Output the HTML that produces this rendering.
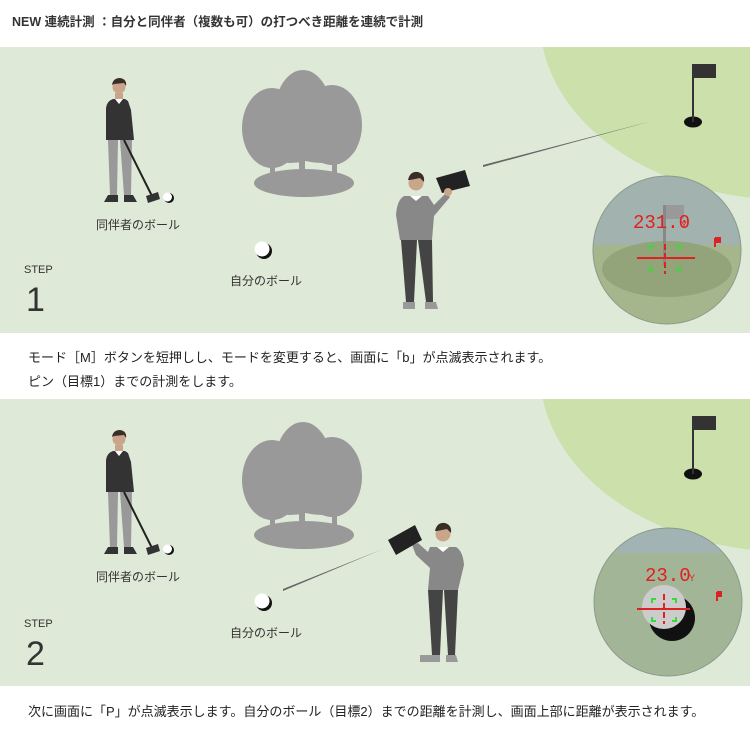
<!DOCTYPE html>
<html><head><meta charset="utf-8"><style>
body{margin:0;background:#fff;}
svg{display:block;font-family:"Liberation Sans","Noto Sans CJK JP",sans-serif;}
</style></head><body>
<svg width="750" height="750" viewBox="0 0 750 750" xmlns="http://www.w3.org/2000/svg">
<defs>
<clipPath id="p1"><rect x="0" y="47" width="750" height="286"/></clipPath>
<clipPath id="p2"><rect x="0" y="399" width="750" height="287"/></clipPath>
<g id="golfer">
 <circle cx="119" cy="87" r="6.5" fill="#c9a58a"/>
 <path d="M112 85 Q113 78 120 78 Q127 79 126 86 L124 83 L114 84Z" fill="#3a2e28"/>
 <rect x="115" y="93" width="8" height="6" fill="#c9a58a"/>
 <path d="M113 99 L125 99 L128 101 L131 110 L134 140 L106 140 L106 108 Q107 101 113 99Z" fill="#333"/>
 <path d="M115 99 L119 104 L123 99Z" fill="#fff"/>
 <path d="M108 140 L118 140 L117 195 L110 195Z M120 140 L132 140 L131 195 L124 195Z" fill="#999"/>
 <path d="M108 195 L118 195 L118 202 L104 202 Z M124 195 L133 195 L137 202 L124 202Z" fill="#333"/>
 <path d="M124 140 L153 198" stroke="#222" stroke-width="2"/>
 <path d="M146 196 L158 192 L160 199 L148 203Z" fill="#333"/>
 <circle cx="169" cy="198" r="5" fill="#111"/><circle cx="167.5" cy="197" r="4.5" fill="#fff"/>
</g>
<g id="trees" fill="#999">
 <ellipse cx="304" cy="183" rx="50" ry="14"/>
 <rect x="270" y="140" width="5" height="40"/><rect x="299" y="140" width="6" height="40"/><rect x="332" y="140" width="5" height="40"/>
 <ellipse cx="272" cy="128" rx="30" ry="40"/>
 <ellipse cx="303" cy="112" rx="28" ry="42"/>
 <ellipse cx="332" cy="125" rx="30" ry="40"/>
 <ellipse cx="290" cy="145" rx="35" ry="18"/><ellipse cx="322" cy="145" rx="35" ry="18"/>
</g>
<g id="ball"><circle cx="264" cy="251" r="8" fill="#111"/><circle cx="262" cy="249" r="7.5" fill="#fff"/></g>
<g id="flag">
 <ellipse cx="693" cy="122" rx="9" ry="5.5" fill="#111"/>
 <rect x="692" y="64" width="2" height="58" fill="#333"/>
 <rect x="694" y="64" width="22" height="14" fill="#333"/>
</g>
</defs>

<text x="12" y="26" font-size="12.5" font-weight="bold" fill="#333">NEW 連続計測 ：自分と同伴者（複数も可）の打つべき距離を連続で計測</text>

<!-- PANEL 1 -->
<rect x="0" y="47" width="750" height="286" fill="#dfe9d7"/>
<g clip-path="url(#p1)"><ellipse cx="790" cy="20" rx="250" ry="180" fill="#cbe0ab"/></g>
<use href="#flag"/>
<use href="#golfer"/>
<use href="#trees"/>
<use href="#ball"/>
<path d="M483 167 L652 121 L483 165Z" fill="#666"/>
<!-- person 1 -->
<g>
 <circle cx="416" cy="183" r="7.5" fill="#c9a58a"/>
 <path d="M408 180 Q410 171 418 172 Q425 174 424 182 L420 178 L410 180Z" fill="#3a2e28"/>
 <path d="M404 196 L428 196 L434 205 L446 193 L450 197 L434 216 L432 240 L400 240 L396 215 Q397 200 404 196Z" fill="#888"/>
 <path d="M410 196 L416 201 L422 196Z" fill="#fff"/>
 <path d="M401 240 L417 240 L414 302 L406 302Z M418 240 L432 240 L433 302 L426 302Z" fill="#444"/>
 <path d="M403 302 L415 302 L415 309 L403 309Z M425 302 L436 302 L438 309 L425 309Z" fill="#999"/>
 <path d="M436 178 L465 170 L470 186 L442 193Z" fill="#222"/>
 <circle cx="448" cy="192" r="4" fill="#c9a58a"/>
</g>
<!-- scope 1 -->
<defs><clipPath id="s1"><circle cx="667" cy="250" r="74"/></clipPath></defs>
<g clip-path="url(#s1)">
 <rect x="590" y="170" width="160" height="160" fill="#a2b3af"/>
 <rect x="590" y="245" width="160" height="90" fill="#a6b68c"/>
 <ellipse cx="667" cy="269" rx="65" ry="28" fill="#93a47b"/>
 <rect x="663" y="205" width="3" height="60" fill="#888"/>
 <rect x="666" y="205" width="18" height="14" fill="#999"/>
</g>
<circle cx="667" cy="250" r="74" fill="none" stroke="#8a9a8a" stroke-width="1"/>
<text x="633" y="228" font-size="19" fill="#e02020" font-family="Liberation Mono,monospace">231.0</text>
<text x="681" y="228" font-size="9" fill="#e02020">Y</text>
<path d="M637 258 L695 258" stroke="#d22" stroke-width="2"/>
<path d="M665 244 L665 274" stroke="#d22" stroke-width="2" stroke-dasharray="6,3"/>
<path d="M650 250 v-4 h4 M680 250 v-4 h-4 M650 266 v4 h4 M680 266 v4 h-4" stroke="#3d3" stroke-width="2" fill="none"/>
<path d="M715 238 v9 M715 238 h5 v4 h-5" stroke="#d22" stroke-width="2" fill="#d22"/>
<text x="24" y="273" font-size="11" fill="#333">STEP</text>
<text x="26" y="311" font-size="34" fill="#333">1</text>
<text x="96" y="229" font-size="12" fill="#333">同伴者のボール</text>
<text x="230" y="285" font-size="12" fill="#333">自分のボール</text>

<text x="28" y="362" font-size="13" fill="#222">モード［M］ボタンを短押しし、モードを変更すると、画面に「b」が点滅表示されます。</text>
<text x="28" y="386" font-size="13" fill="#222">ピン（目標1）までの計測をします。</text>

<!-- PANEL 2 -->
<rect x="0" y="399" width="750" height="287" fill="#dfe9d7"/>
<g clip-path="url(#p2)"><ellipse cx="790" cy="372" rx="250" ry="180" fill="#cbe0ab"/></g>
<g transform="translate(0,352)"><use href="#flag"/><use href="#golfer"/><use href="#trees"/></g>
<g transform="translate(0,352)"><use href="#ball"/></g>
<path d="M283 591 L383 549 L283 589Z" fill="#666"/>
<!-- person 2 -->
<g>
 <circle cx="443" cy="534" r="7.5" fill="#c9a58a"/>
 <path d="M435 531 Q437 522 445 523 Q452 525 451 533 L447 529 L437 531Z" fill="#3a2e28"/>
 <path d="M430 547 L456 547 Q463 551 464 565 L458 590 L428 590 L430 568 L416 555 L412 545 L418 543 L428 552Z" fill="#888"/>
 <path d="M437 547 L443 552 L449 547Z" fill="#fff"/>
 <path d="M428 590 L443 590 L440 655 L432 655Z M444 590 L458 590 L455 655 L448 655Z" fill="#444"/>
 <path d="M420 655 L440 655 L440 662 L420 662Z M446 655 L456 655 L458 662 L446 662Z" fill="#999"/>
 <path d="M388 540 L415 525 L422 540 L396 555Z" fill="#222"/>
</g>
<!-- scope 2 -->
<defs><clipPath id="s2"><circle cx="668" cy="602" r="74"/></clipPath></defs>
<g clip-path="url(#s2)">
 <rect x="590" y="520" width="160" height="170" fill="#a3b597"/>
 <rect x="590" y="520" width="160" height="33" fill="#a1b3b3"/>
 <circle cx="672" cy="618" r="23" fill="#111"/>
 <circle cx="664" cy="607" r="22" fill="#ccc"/>
</g>
<circle cx="668" cy="602" r="74" fill="none" stroke="#8a9a8a" stroke-width="1"/>
<text x="645" y="581" font-size="19" fill="#e02020" font-family="Liberation Mono,monospace">23.0</text>
<text x="689" y="581" font-size="9" fill="#e02020">Y</text>
<path d="M637 609 L690 609" stroke="#d22" stroke-width="2"/>
<path d="M664 594 L664 624" stroke="#d22" stroke-width="2" stroke-dasharray="6,3"/>
<path d="M652 603 v-4 h4 M676 603 v-4 h-4 M652 617 v4 h4 M676 617 v4 h-4" stroke="#3d3" stroke-width="2" fill="none"/>
<path d="M717 592 v9 M717 592 h4 v4 h-4" stroke="#d22" stroke-width="2" fill="#d22"/>
<text x="24" y="627" font-size="11" fill="#333">STEP</text>
<text x="26" y="665" font-size="34" fill="#333">2</text>
<text x="96" y="581" font-size="12" fill="#333">同伴者のボール</text>
<text x="230" y="637" font-size="12" fill="#333">自分のボール</text>

<text x="28" y="716" font-size="13" fill="#222">次に画面に「P」が点滅表示します。自分のボール（目標2）までの距離を計測し、画面上部に距離が表示されます。</text>
</svg>
</body></html>
